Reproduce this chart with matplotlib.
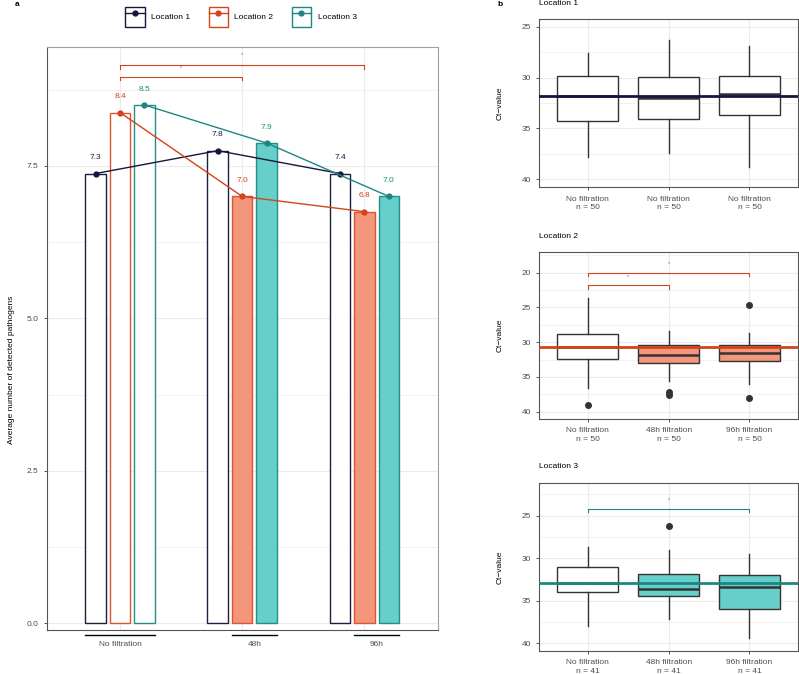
import matplotlib
matplotlib.use('Agg')
import matplotlib.pyplot as plt
import matplotlib.transforms as mtransforms
from matplotlib.patches import Rectangle
from matplotlib.lines import Line2D
from matplotlib.legend_handler import HandlerTuple

plt.rcParams['font.family'] = ['Liberation Sans', 'DejaVu Sans']

# ---- data, panel a ----
conditions = ['No filtration', '48h', '96h']
locations = ['Location 1', 'Location 2', 'Location 3']
mean_l1 = [7.375, 7.75, 7.375]
mean_l2 = [8.375, 7.0, 6.75]
mean_l3 = [8.5, 7.875, 7.0]
label_l1 = ['7.3', '7.8', '7.4']
label_l2 = ['8.4', '7.0', '6.8']
label_l3 = ['8.5', '7.9', '7.0']

# ---- data, panel b (box stats of Ct values) ----
tick_l1 = ['No filtration\nn = 50', 'No filtration\nn = 50', 'No filtration\nn = 50']
tick_l2 = ['No filtration\nn = 50', '48h filtration\nn = 50', '96h filtration\nn = 50']
tick_l3 = ['No filtration\nn = 41', '48h filtration\nn = 41', '96h filtration\nn = 41']
# whisker low, q1, median, q3, whisker high
box_l1 = [[27.6, 29.87, 31.8, 34.29, 37.8],
          [26.3, 29.97, 31.97, 34.1, 37.45],
          [26.9, 29.84, 31.64, 33.7, 38.75]]
box_l2 = [[23.68, 28.82, 30.65, 32.42, 36.6],
          [28.35, 30.4, 31.9, 33.04, 35.54],
          [28.63, 30.45, 31.6, 32.76, 36.0]]
box_l3 = [[28.64, 31.06, 32.9, 33.93, 37.93],
          [29.03, 31.81, 33.6, 34.47, 37.14],
          [29.5, 31.97, 33.38, 35.93, 39.33]]
out_l1 = [[], [], []]
out_l2 = [[39.0], [37.2, 37.55], [24.65, 38.07]]
out_l3 = [[], [26.25], []]
mean_line = [31.81, 30.7, 32.9]

line_col = ['#16163C', '#D2441A', '#1C8782']
edge_col = ['#1E1E40', '#DA5530', '#268E89']
fill_col = ['#FFFFFF', '#F4967C', '#66CFCA']
grid_col = '#EBEBEB'
txt_col = '#4D4D4D'

W, H = 799, 674
fig = plt.figure(figsize=(W / 100, H / 100), dpi=100)


def px_axes(l, t, r, b):
    return fig.add_axes([l / W, 1 - b / H, (r - l) / W, (b - t) / H])


def style(ax):
    ax.set_axisbelow(True)
    ax.tick_params(axis='y', labelsize=6, colors='#333333', labelcolor=txt_col, length=2.5, width=0.6)
    ax.tick_params(axis='x', labelsize=6, colors='#333333', labelcolor=txt_col, length=2.5, width=0.6)
    ax.grid(True, which='major', color=grid_col, lw=0.8)
    ax.grid(True, which='minor', axis='y', color=grid_col, lw=0.45)
    ax.tick_params(which='minor', length=0)


# ================= panel a =================
ax = px_axes(46.7, 47, 437.7, 630)
style(ax)
xs = [1, 2, 3]
offs = [-0.2, 0.0, 0.2]
bw = 0.168
means = [mean_l1, mean_l2, mean_l3]
labels = [label_l1, label_l2, label_l3]
for k in range(3):
    px = [x + offs[k] for x in xs]
    fills = ['#FFFFFF'] + [fill_col[k]] * 2
    ax.bar(px, means[k], width=bw, color=fills, edgecolor=edge_col[k], lw=1.0, zorder=2)
    ax.plot(px, means[k], color=line_col[k], lw=1.0, marker='o', ms=3.5, zorder=4)
    for x, y, s in zip(px, means[k], labels[k]):
        ax.annotate(s, (x, y), xytext=(0, 11.3), textcoords='offset points',
                    ha='center', va='center', fontsize=6, color=line_col[k])

# significance brackets (location 2)
for x0, x1, y, ys in [(1, 3, 9.147, 9.32), (1, 2, 8.957, 9.11)]:
    ax.plot([x0, x0, x1, x1], [y - 0.055, y, y, y - 0.055], color=line_col[1], lw=0.8, zorder=3)
    ax.text((x0 + x1) / 2, ys, '*', ha='center', va='center', fontsize=4, color=line_col[1])

ax.set_xlim(0.4, 3.6)
ax.set_ylim(-0.11, 9.45)
ax.set_xticks(xs)
ax.set_xticklabels([])
ax.tick_params(axis='x', length=0)
ax.set_yticks([0, 2.5, 5.0, 7.5])
ax.set_yticklabels(['0.0', '2.5', '5.0', '7.5'])
ax.set_yticks([1.25, 3.75, 6.25, 8.75], minor=True)
for s in ['left', 'bottom']:
    ax.spines[s].set_color('#555555')
for s in ['top', 'right']:
    ax.spines[s].set_color('#A0A0A0')

# group lines under the axis
trans = mtransforms.blended_transform_factory(ax.transData, ax.transAxes)
spans = [(1 - 0.2 - bw / 2, 1 + 0.2 + bw / 2), (2 - bw / 2, 2 + 0.2 + bw / 2), (3 - bw / 2, 3 + 0.2 + bw / 2)]
for (a, b), c in zip(spans, conditions):
    ax.plot([a, b], [-0.0086, -0.0086], color='black', lw=1.0, transform=trans, clip_on=False)
    ax.text((a + b) / 2, -0.025, c, ha='center', va='center', fontsize=6, color=txt_col,
            transform=trans)

fig.text(12 / W, 1 - 370 / H, 'Average number of detected pathogens', rotation=90,
         ha='center', va='center', fontsize=6, color='black')
fig.text(17 / W, 1 - 4 / H, 'a', ha='center', va='center', fontsize=6, fontweight='bold')

# legend
handles = []
for k in range(3):
    r = Rectangle((0, 0), 1, 1, facecolor='white', edgecolor=line_col[k], lw=1.0)
    ln = Line2D([], [], color=line_col[k], lw=1.0, marker='o', ms=3.5)
    handles.append((r, ln))
fig.legend(handles, locations, handler_map={tuple: HandlerTuple(ndivide=1, pad=0)},
           loc='center', bbox_to_anchor=(241 / W, 1 - 17 / H), ncol=3, frameon=False,
           fontsize=6, handlelength=2.3, handleheight=3.3, handletextpad=0.8,
           columnspacing=2.2, borderpad=0)

# ================= panel b =================
fig.text(500 / W, 1 - 4 / H, 'b', ha='center', va='center', fontsize=6, fontweight='bold')

panels = [
    ('Location 1', (19.3, 187.3), (24.27, 40.79), box_l1, out_l1, tick_l1, [25, 30, 35, 40], 3.5),
    ('Location 2', (252, 419), (17.02, 41.05), box_l2, out_l2, tick_l2, [20, 25, 30, 35, 40], 236),
    ('Location 3', (483.3, 651), (21.19, 40.9), box_l3, out_l3, tick_l3, [25, 30, 35, 40], 466.7),
]
box_axes = []
for k, (title, (top, bot), ylim, boxes, outs, ticks, yt, ty) in enumerate(panels):
    bx = px_axes(539.3, top, 798, bot)
    box_axes.append(bx)
    style(bx)
    stats = []
    for b, o in zip(boxes, outs):
        stats.append(dict(whislo=b[0], q1=b[1], med=b[2], q3=b[3], whishi=b[4], fliers=o))
    art = bx.bxp(stats, positions=xs, widths=0.75, patch_artist=True, showcaps=False,
                 boxprops=dict(edgecolor='#333333', lw=1.0),
                 whiskerprops=dict(color='#333333', lw=1.0),
                 medianprops=dict(color='#333333', lw=1.8),
                 flierprops=dict(marker='o', markerfacecolor='#333333', markeredgecolor='#333333', ms=4))
    for i, p in enumerate(art['boxes']):
        p.set_facecolor('#FFFFFF' if (i == 0 or k == 0) else fill_col[k])
    bx.axhline(mean_line[k], color=line_col[k], lw=2.0, zorder=5)
    bx.set_xlim(0.4, 3.6)
    bx.set_ylim(ylim[1], ylim[0])
    bx.set_xticks(xs)
    bx.set_xticklabels(ticks, linespacing=1.25)
    bx.set_yticks(yt)
    minor = [v + 2.5 for v in yt[:-1]]
    if k == 1:
        minor = [17.5] + minor
    if k == 2:
        minor = [22.5] + minor
    bx.set_yticks(minor, minor=True)
    for s in bx.spines.values():
        s.set_color('#555555')
    fig.text(539.3 / W, 1 - ty / H, title, ha='left', va='center', fontsize=6)
    fig.text(500 / W, 1 - (top + bot) / 2 / H, 'Ct\u2212value', rotation=90,
             ha='center', va='center', fontsize=6)

# significance brackets in panel b
brackets = {
    1: [(1, 3, 20.0, 0.5, 18.65), (1, 2, 21.7, 0.65, 20.6)],
    2: [(1, 3, 24.18, 0.39, 23.07)],
}
for k, items in brackets.items():
    bx = box_axes[k]
    for x0, x1, y, d, ys in items:
        bx.plot([x0, x0, x1, x1], [y + d, y, y, y + d], color=line_col[k], lw=0.8, zorder=3)
        bx.text((x0 + x1) / 2, ys, '*', ha='center', va='center', fontsize=4, color=line_col[k])

fig.savefig('out.png', dpi=100)
